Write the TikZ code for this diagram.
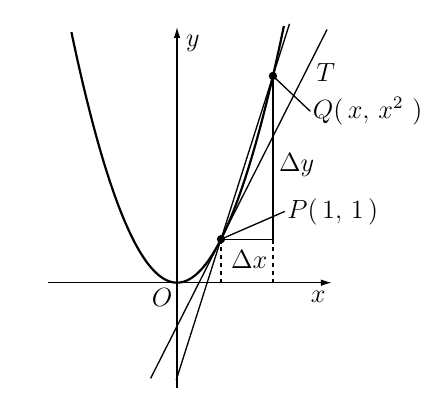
\documentclass[tikz,border=0pt]{standalone}
\usepackage{amsmath}
\usepackage{tikz}
\usetikzlibrary{arrows.meta,positioning,calc}
\tikzset{
  gr/axis/.style={line width=0.65pt, -{Latex[length=5pt,width=3pt]}},
  gr/curve/.style={line width=1pt},
  gr/line/.style={line width=0.6pt},
  gr/guide/.style={line width=0.6pt, dash pattern=on 2pt off 1.6pt},
  gr/dot/.style={circle, fill, inner sep=0pt, minimum size=3.8pt},
  gr/label/.style={inner sep=1pt, font=\fontsize{11.5}{14}\selectfont}
}

\begin{document}
\begin{tikzpicture}[x=0.704cm, y=0.696cm]
  \useasboundingbox (-4.023,-2.903) rectangle (5.909,6.499);

  % axes
  \coordinate (O) at (0,0);
  \coordinate (xstart) at (-2.93,0);
  \coordinate (xend) at (3.52,0);
  \coordinate (ystart) at (0,-2.42);
  \coordinate (yend) at (0,5.88);
  \draw[gr/axis] (xstart) -- (xend);
  \draw[gr/axis] (ystart) -- (yend);

  % points
  \coordinate (P) at (1,1);
  \coordinate (Q) at (2.18,4.7524);
  \coordinate (M) at (P -| Q);
  \coordinate (Pfoot) at (P |- O);
  \coordinate (Mfoot) at (M |- O);

  % parabola y = x^2
  \draw[gr/curve] plot[domain=-2.4:2.43, samples=80, smooth] (\x,{\x*\x});

  % tangent at P and secant PQ
  \coordinate (tlow) at (-0.6,-2.2);
  \coordinate (thigh) at (3.41,5.82);
  \draw[gr/line] (tlow) -- (thigh);
  \draw[gr/line] ($(P)!-0.863!(Q)$) -- ($(P)!1.319!(Q)$);

  % increments
  \draw[gr/line] (P) -- (M) -- (Q);
  \draw[gr/guide] (P) -- (Pfoot);
  \draw[gr/guide] (M) -- (Mfoot);

  % labels
  \node[gr/label, anchor=base] (ylab) at (0.36,5.44) {$y$};
  \node[gr/label, anchor=base] (xlab) at (3.21,-0.46) {$x$};
  \node[gr/label, anchor=base] (olab) at (-0.34,-0.552) {$O$};
  \node[gr/label, anchor=base] (tlab) at (3.38,4.62) {$T$};
  \node[gr/label, anchor=base west] (qlab) at (3.03,3.775) {$Q(\,x,\,x^{2}\,\,)$};
  \node[gr/label, anchor=base west] (plab) at (2.45,1.487) {$P(\,1,\,1\,)$};
  \node[gr/label, anchor=base west] (dylab) at (2.26,2.55) {$\Delta y$};
  \node[gr/label, anchor=base] (dxlab) at (1.64,0.315) {$\Delta x$};

  \draw[gr/line] (Q) -- (qlab.west);
  \draw[gr/line] (P) -- (plab.west);

  \node[gr/dot] (pdot) at (P) {};
  \node[gr/dot] (qdot) at (Q) {};
\end{tikzpicture}
\end{document}
